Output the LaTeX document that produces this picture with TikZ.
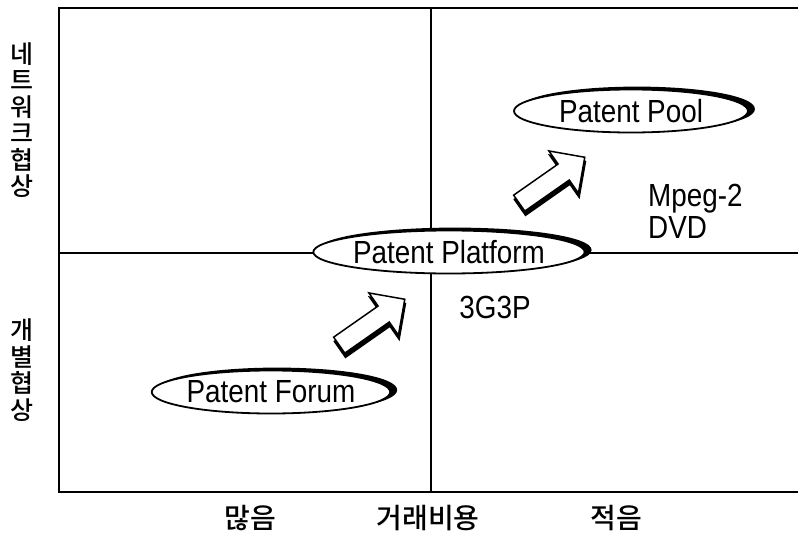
\documentclass[tikz,border=0pt]{standalone}
\usepackage{graphicx}
\usepackage{fontspec}
\setmainfont{Liberation Sans}
\newfontfamily\kr{Noto Sans CJK KR Medium}
\usetikzlibrary{positioning, shapes.geometric, shapes.arrows, shadows}
\newcommand{\cond}[1]{\scalebox{0.87}[1]{#1}}

\begin{document}
\begin{tikzpicture}[x=1pt, y=-1pt,
    % --- styles ---
    frameline/.style={line width=2pt},
    patentnode/.style={ellipse, draw=black, line width=1.8pt, fill=white, inner sep=0pt,
        minimum width=234pt, minimum height=43pt,
        copy shadow={shadow xshift=6pt, shadow yshift=2pt, fill=black, draw=black},
        font=\fontsize{32}{32}\selectfont},
    movearrow/.style={single arrow, draw=black, line width=1.5pt, fill=white, inner sep=9pt,
        single arrow head extend=16pt, minimum height=80pt, rotate=35,
        copy shadow={shadow xshift=0.7pt, shadow yshift=-4.2pt, fill=black, draw=black}},
    sidelabel/.style={font=\kr\fontsize{25}{26.5}\selectfont, align=center, inner sep=0pt},
    axislabel/.style={font=\kr\fontsize{28}{28}\selectfont, inner sep=0pt},
    casetext/.style={font=\fontsize{32}{32}\selectfont, inner sep=0pt, align=left}
]
\useasboundingbox (0,0) rectangle (798,543);

% === frame and quadrants ===
\coordinate (tl) at (59,8);
\coordinate (tr) at (798,8);
\coordinate (bl) at (59,492);
\coordinate (br) at (798,492);
\coordinate (midtop) at (431,8);
\coordinate (midbot) at (431,492);
\coordinate (midleft) at (59,253);
\coordinate (midright) at (798,253);
\draw[frameline] (tr) -- (tl) -- (bl) -- (br);
\draw[frameline] (midtop) -- (midbot);
\draw[frameline] (midleft) -- (midright);

% === axis labels ===
\node[sidelabel] (network) at (22,120) {네\\트\\워\\크\\협\\상};
\node[sidelabel] (single) at (22,370) {개\\별\\협\\상};
\node[axislabel] (many) at (250,518) {많음};
\node[axislabel] (cost) at (428,518) {거래비용};
\node[axislabel] (few) at (616,518) {적음};

% === arrows (drawn first, under the ellipses) ===
\node[movearrow] (step1) at (368,325) {};
\node[movearrow] (step2) at (548,183) {};

% === patent nodes ===
\node[patentnode] (forum) at (271,392) {\cond{Patent Forum}};
\node[patentnode] (platform) at (449,252) {\cond{Patent Platform}};
\node[patentnode] (pool) at (631,111) {\cond{Patent Pool}};

% === examples ===
\node[casetext] (g3p) at (495,307) {\cond{3G3P}};
\node[casetext, anchor=west] (mpeg) at (648,211) {\cond{Mpeg-2}\\\cond{DVD}};

\end{tikzpicture}
\end{document}
